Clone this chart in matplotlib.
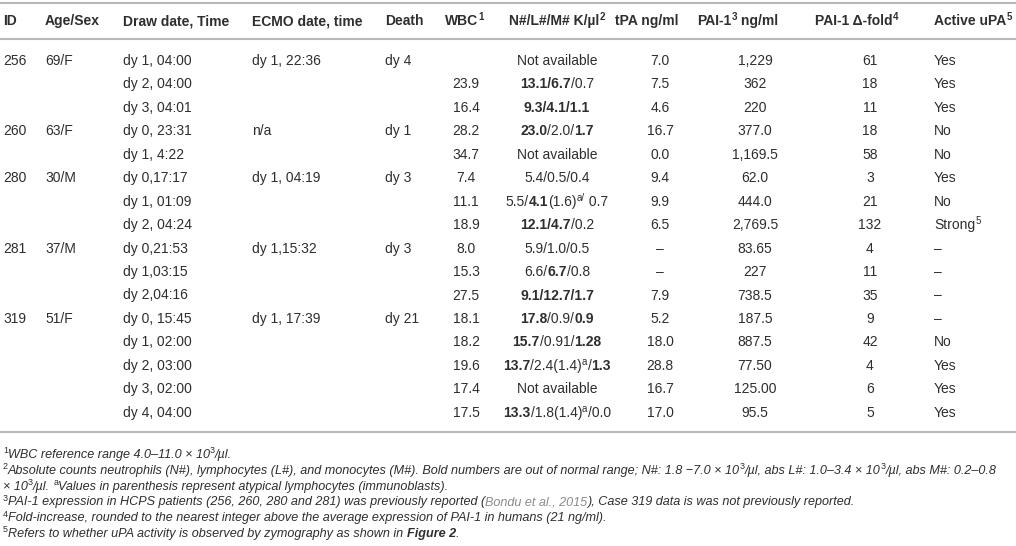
import re

import matplotlib
matplotlib.use("Agg")
import matplotlib.pyplot as plt

plt.rcParams['font.family'] = ['Liberation Sans', 'DejaVu Sans']

headers = ["ID", "Age/Sex", "Draw date, Time", "ECMO date, time", "Death", "WBC^1",
           "N#/L#/M# K/µl^2", "tPA ng/ml", "PAI-1^3 ng/ml", "PAI-1 Δ-fold^4", "Active uPA^5"]

ids = ["256", "", "", "260", "", "280", "", "", "281", "", "", "319", "", "", "", ""]
age_sex = ["69/F", "", "", "63/F", "", "30/M", "", "", "37/M", "", "", "51/F", "", "", "", ""]
draw_time = ["dy 1, 04:00", "dy 2, 04:00", "dy 3, 04:01", "dy 0, 23:31", "dy 1, 4:22",
             "dy 0,17:17", "dy 1, 01:09", "dy 2, 04:24", "dy 0,21:53", "dy 1,03:15",
             "dy 2,04:16", "dy 0, 15:45", "dy 1, 02:00", "dy 2, 03:00", "dy 3, 02:00", "dy 4, 04:00"]
ecmo_time = ["dy 1, 22:36", "", "", "n/a", "", "dy 1, 04:19", "", "", "dy 1,15:32", "", "",
             "dy 1, 17:39", "", "", "", ""]
death = ["dy 4", "", "", "dy 1", "", "dy 3", "", "", "dy 3", "", "", "dy 21", "", "", "", ""]
wbc = ["", "23.9", "16.4", "28.2", "34.7", "7.4", "11.1", "18.9", "8.0", "15.3", "27.5",
       "18.1", "18.2", "19.6", "17.4", "17.5"]
# ** toggles bold, ^x / ^{..} is superscript
nlm = ["Not available", "**13.1/6.7**/0.7", "**9.3/4.1/1.1**", "**23.0**/2.0/**1.7**",
       "Not available", "5.4/0.5/0.4", "5.5/**4.1**(1.6)^{a/} 0.7", "**12.1/4.7**/0.2",
       "5.9/1.0/0.5", "6.6/**6.7**/0.8", "**9.1/12.7/1.7**", "**17.8**/0.9/**0.9**",
       "**15.7**/0.91/**1.28**", "**13.7**/2.4(1.4)^a/**1.3**", "Not available",
       "**13.3**/1.8(1.4)^a/0.0"]
tpa = ["7.0", "7.5", "4.6", "16.7", "0.0", "9.4", "9.9", "6.5", "–", "–", "7.9", "5.2",
       "18.0", "28.8", "16.7", "17.0"]
pai1 = ["1,229", "362", "220", "377.0", "1,169.5", "62.0", "444.0", "2,769.5", "83.65",
        "227", "738.5", "187.5", "887.5", "77.50", "125.00", "95.5"]
fold = ["61", "18", "11", "18", "58", "3", "21", "132", "4", "11", "35", "9", "42", "4", "6", "5"]
upa = ["Yes", "Yes", "Yes", "No", "No", "Yes", "No", "Strong^5", "–", "–", "–", "–", "No",
       "Yes", "Yes", "Yes"]

footnotes = [
    "^1WBC reference range 4.0–11.0 × 10^3/µl.",
    "^2Absolute counts neutrophils (N#), lymphocytes (L#), and monocytes (M#). Bold numbers are "
    "out of normal range; N#: 1.8 −7.0 × 10^3/µl, abs L#: 1.0–3.4 × 10^3/µl, abs M#: 0.2–0.8",
    "× 10^3/µl. ^aValues in parenthesis represent atypical lymphocytes (immunoblasts).",
    "^3PAI-1 expression in HCPS patients (256, 260, 280 and 281) was previously reported "
    "(~~Bondu et al., 2015~~), Case 319 data is was not previously reported.",
    "^4Fold-increase, rounded to the nearest integer above the average expression of PAI-1 "
    "in humans (21 ng/ml).",
    "^5Refers to whether uPA activity is observed by zymography as shown in **Figure 2**.",
]

W, H = 1016, 546
TXT = '#2e2e2e'
GRAY = '#8a8a8a'
RULE = '#b8b8b8'

fig = plt.figure(figsize=(W / 100, H / 100), dpi=100)
ax = fig.add_axes([0, 0, 1, 1])
ax.set_xlim(0, W)
ax.set_ylim(H, 0)
ax.axis('off')
renderer = fig.canvas.get_renderer()


def text_width(s, **kw):
    a = ax.text(0, 0, '|' + s + '|', **kw)
    b = ax.text(0, 0, '||', **kw)
    w = a.get_window_extent(renderer).width - b.get_window_extent(renderer).width
    a.remove()
    b.remove()
    return w


def parse(s, bold=False):
    runs = []
    gray = False
    for tok in re.split(r'(\*\*|~~|\^\{[^}]*\}|\^\w)', s):
        if tok == '**':
            bold = not bold
        elif tok == '~~':
            gray = not gray
        elif tok.startswith('^'):
            runs.append((tok.strip('^{}'), bold, True, gray))
        elif tok:
            runs.append((tok, bold, False, gray))
    return runs


def draw_runs(x, y, s, size, align='left', bold=False, italic=False):
    pieces = []
    total = 0
    for text, b, sup, gray in parse(s, bold):
        kw = dict(fontsize=size * 0.7 if sup else size,
                  fontweight='bold' if b else 'normal',
                  fontstyle='italic' if italic and not sup else 'normal')
        w = text_width(text, **kw)
        pieces.append((text, kw, w, sup, gray))
        total += w
    if align == 'center':
        x -= total / 2
    elif align == 'right':
        x -= total
    for text, kw, w, sup, gray in pieces:
        ax.text(x, y - (size * 0.5 if sup else 0), text, va='baseline', ha='left',
                color=GRAY if gray else TXT, **kw)
        x += w


fs = 10
head_x = [3, 45, 123, 252, 385, 445, 509, 615, 697, 815, 934]
cols = [ids, age_sex, draw_time, ecmo_time, death, wbc, nlm, tpa, pai1, fold, upa]
col_x = [3, 45, 123, 252, 385, 466, 557, 660, 755, 870, 934]
col_align = ['left', 'left', 'left', 'left', 'left', 'center', 'center', 'center',
             'center', 'center', 'left']

ax.plot([0, W], [3, 3], color=RULE, lw=1.5)
ax.plot([0, W], [39, 39], color=RULE, lw=1.5)
ax.plot([0, W], [432, 432], color=RULE, lw=1.5)

for hx, h in zip(head_x, headers):
    draw_runs(hx, 25, h, fs, bold=True)

for c, vals in enumerate(cols):
    for i, v in enumerate(vals):
        if v:
            draw_runs(col_x[c], 65 + i * 23.45, v, fs, align=col_align[c])

for k, f in enumerate(footnotes):
    draw_runs(3, 458 + k * 15.8, f, 9.1, italic=True)

fig.savefig('out.png', dpi=100)
